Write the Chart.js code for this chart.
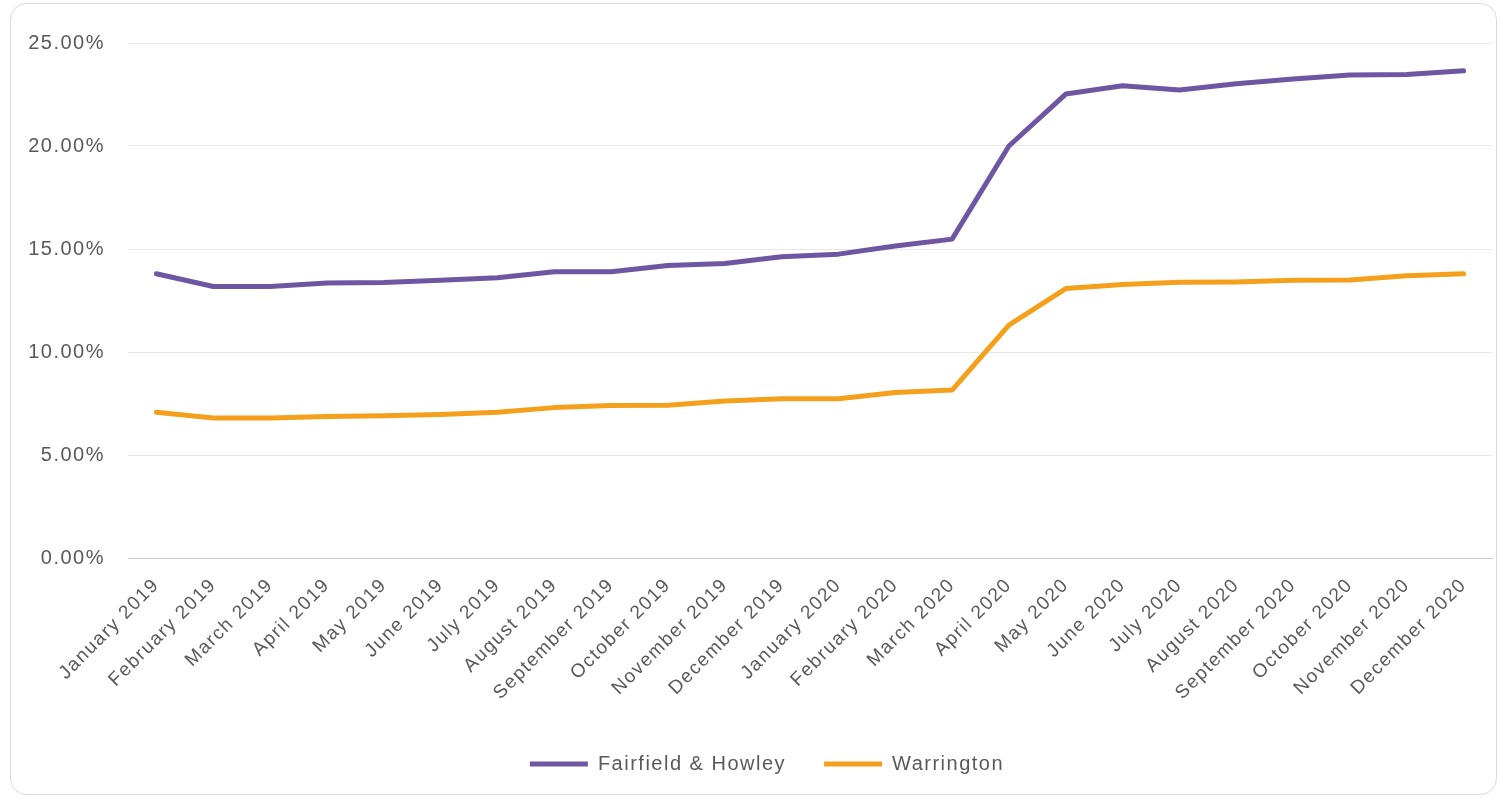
<!DOCTYPE html>
<html>
<head>
<meta charset="utf-8">
<script src="https://cdn.jsdelivr.net/npm/chart.js@4.4.0/dist/chart.umd.min.js"></script>
<style>
  html, body { margin: 0; padding: 0; background: #ffffff; }
  #wrap { position: relative; width: 1501px; height: 798px; }
  canvas { display: block; }
</style>
</head>
<body>
<div id="wrap"><canvas id="c" width="1501" height="798"></canvas></div>
<script>
const categories = [
  'January 2019','February 2019','March 2019','April 2019','May 2019','June 2019',
  'July 2019','August 2019','September 2019','October 2019','November 2019','December 2019',
  'January 2020','February 2020','March 2020','April 2020','May 2020','June 2020',
  'July 2020','August 2020','September 2020','October 2020','November 2020','December 2020'
];
const fairfieldHowley = [13.80, 13.18, 13.18, 13.35, 13.37, 13.48, 13.60, 13.90, 13.90, 14.20, 14.30, 14.62,
                         14.75, 15.15, 15.48, 20.00, 22.52, 22.92, 22.72, 23.02, 23.25, 23.45, 23.47, 23.65];
const warrington = [7.07, 6.80, 6.80, 6.87, 6.90, 6.97, 7.07, 7.30, 7.40, 7.42, 7.62, 7.73,
                    7.73, 8.03, 8.15, 11.30, 13.08, 13.28, 13.38, 13.40, 13.48, 13.50, 13.70, 13.80];
const yTickValues = [0, 5, 10, 15, 20, 25];

const seriesNames = ['Fairfield & Howley', 'Warrington'];
const seriesColors = ['#6E56A2', '#F5A01D'];

const spacing = {
  id: 'spacing',
  beforeInit(chart) { if ('letterSpacing' in chart.ctx) chart.ctx.letterSpacing = '1.5px'; },
  beforeDraw(chart) { if ('letterSpacing' in chart.ctx) chart.ctx.letterSpacing = '1.5px'; }
};

const frame = {
  id: 'frame',
  beforeDraw(chart) {
    const ctx = chart.ctx;
    ctx.save();
    ctx.strokeStyle = '#DADADA';
    ctx.lineWidth = 1;
    ctx.beginPath();
    ctx.roundRect(10.5, 3.5, 1486, 791, 16);
    ctx.stroke();
    ctx.restore();
  }
};

const FONT = "'Liberation Sans', Arial, sans-serif";

new Chart(document.getElementById('c'), {
  type: 'line',
  data: {
    labels: categories,
    datasets: [
      { label: seriesNames[0], data: fairfieldHowley, borderColor: seriesColors[0], backgroundColor: seriesColors[0],
        borderWidth: 5, pointRadius: 0, tension: 0, borderJoinStyle: 'round', borderCapStyle: 'round' },
      { label: seriesNames[1], data: warrington, borderColor: seriesColors[1], backgroundColor: seriesColors[1],
        borderWidth: 5, pointRadius: 0, tension: 0, borderJoinStyle: 'round', borderCapStyle: 'round' }
    ]
  },
  options: {
    responsive: false,
    animation: false,
    devicePixelRatio: 1,
    layout: { padding: { top: 43, right: 9, left: 0, bottom: 14 } },
    plugins: {
      tooltip: { enabled: false },
      legend: {
        position: 'bottom',
        labels: {
          font: { family: FONT, size: 20 },
          color: '#595959',
          boxWidth: 58,
          boxHeight: 5,
          padding: 38,
          generateLabels(chart) {
            return chart.data.datasets.map((ds, i) => ({
              text: ds.label, fillStyle: ds.borderColor, strokeStyle: ds.borderColor,
              lineWidth: 0, hidden: false, datasetIndex: i, fontColor: '#595959'
            }));
          }
        }
      }
    },
    scales: {
      x: {
        offset: true,
        grid: { display: false, drawTicks: false },
        border: { display: true, color: '#C9C9C9', width: 1, dash: [2, 1] },
        ticks: {
          font: { family: FONT, size: 19 },
          color: '#595959',
          maxRotation: 45, minRotation: 45,
          autoSkip: false,
          padding: 16
        },
        afterFit(s) { s.height = 158; }
      },
      y: {
        min: 0, max: 25,
        afterBuildTicks(s) { s.ticks = yTickValues.map(v => ({ value: v })); },
        grid: {
          drawTicks: false,
          color: ctx => ctx.tick && ctx.tick.value === 0 ? 'rgba(0,0,0,0)' : '#E8E8E8',
          lineWidth: 1
        },
        border: { display: false },
        ticks: {
          font: { family: FONT, size: 20 },
          color: '#595959',
          padding: 23,
          callback: v => v.toFixed(2) + '%'
        },
        afterFit(s) { s.width = 128; }
      }
    }
  },
  plugins: [spacing, frame]
});
</script>
</body>
</html>
